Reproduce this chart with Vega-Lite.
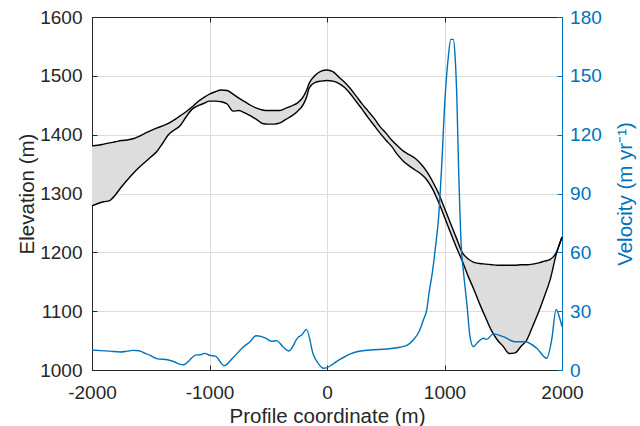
{
  "$schema": "https://vega.github.io/schema/vega-lite/v6.json",
  "width": 470,
  "height": 353,
  "autosize": {"type": "none"},
  "padding": {"left": 92, "top": 17, "right": 78, "bottom": 56},
  "config": {
    "font": "Liberation Sans",
    "view": {"stroke": "#262626", "strokeWidth": 1},
    "axis": {
      "labelFont": "Liberation Sans",
      "titleFont": "Liberation Sans",
      "labelFontSize": 19,
      "titleFontSize": 20.5,
      "titleFontWeight": "normal",
      "labelColor": "#262626",
      "titleColor": "#262626",
      "domainColor": "#262626",
      "tickColor": "#262626",
      "gridColor": "#dcdcdc",
      "gridWidth": 1,
      "tickSize": -5,
      "labelFlush": false,
      "labelOverlap": false
    }
  },
  "datasets": {
    "elev": [
      {"x": -2000, "surface": 1381, "bed": 1279},
      {"x": -1950, "surface": 1382, "bed": 1283},
      {"x": -1900, "surface": 1384, "bed": 1286},
      {"x": -1850, "surface": 1386, "bed": 1288},
      {"x": -1800, "surface": 1388, "bed": 1298},
      {"x": -1750, "surface": 1390, "bed": 1311},
      {"x": -1700, "surface": 1391, "bed": 1323},
      {"x": -1650, "surface": 1393, "bed": 1334},
      {"x": -1600, "surface": 1397, "bed": 1344},
      {"x": -1550, "surface": 1402, "bed": 1353},
      {"x": -1500, "surface": 1407, "bed": 1362},
      {"x": -1450, "surface": 1411, "bed": 1371},
      {"x": -1400, "surface": 1415, "bed": 1385},
      {"x": -1350, "surface": 1419, "bed": 1400},
      {"x": -1300, "surface": 1425, "bed": 1408},
      {"x": -1250, "surface": 1432, "bed": 1415},
      {"x": -1200, "surface": 1439, "bed": 1430},
      {"x": -1150, "surface": 1447, "bed": 1443},
      {"x": -1100, "surface": 1456, "bed": 1449},
      {"x": -1050, "surface": 1463, "bed": 1453},
      {"x": -1000, "surface": 1469, "bed": 1457},
      {"x": -950, "surface": 1473, "bed": 1457},
      {"x": -900, "surface": 1476, "bed": 1456},
      {"x": -850, "surface": 1475, "bed": 1452},
      {"x": -800, "surface": 1469, "bed": 1440},
      {"x": -750, "surface": 1462, "bed": 1441},
      {"x": -700, "surface": 1456, "bed": 1437},
      {"x": -650, "surface": 1450, "bed": 1432},
      {"x": -600, "surface": 1445, "bed": 1426},
      {"x": -550, "surface": 1442, "bed": 1419},
      {"x": -500, "surface": 1441, "bed": 1418},
      {"x": -450, "surface": 1441, "bed": 1418},
      {"x": -400, "surface": 1441, "bed": 1420},
      {"x": -350, "surface": 1445, "bed": 1426},
      {"x": -300, "surface": 1449, "bed": 1432},
      {"x": -250, "surface": 1454, "bed": 1440},
      {"x": -200, "surface": 1465, "bed": 1452},
      {"x": -175, "surface": 1475, "bed": 1463},
      {"x": -150, "surface": 1488, "bed": 1480},
      {"x": -100, "surface": 1501, "bed": 1489},
      {"x": -50, "surface": 1508, "bed": 1491},
      {"x": 0, "surface": 1510, "bed": 1492},
      {"x": 50, "surface": 1507, "bed": 1491},
      {"x": 100, "surface": 1498, "bed": 1487},
      {"x": 150, "surface": 1489, "bed": 1480},
      {"x": 200, "surface": 1478, "bed": 1469},
      {"x": 250, "surface": 1465, "bed": 1456},
      {"x": 300, "surface": 1452, "bed": 1443},
      {"x": 350, "surface": 1440, "bed": 1429},
      {"x": 400, "surface": 1428, "bed": 1416},
      {"x": 450, "surface": 1414, "bed": 1403},
      {"x": 500, "surface": 1403, "bed": 1391},
      {"x": 550, "surface": 1391, "bed": 1380},
      {"x": 600, "surface": 1381, "bed": 1366},
      {"x": 650, "surface": 1372, "bed": 1355},
      {"x": 700, "surface": 1366, "bed": 1347},
      {"x": 750, "surface": 1360, "bed": 1340},
      {"x": 800, "surface": 1350, "bed": 1333},
      {"x": 850, "surface": 1337, "bed": 1323},
      {"x": 900, "surface": 1320, "bed": 1307},
      {"x": 950, "surface": 1300, "bed": 1285},
      {"x": 1000, "surface": 1275, "bed": 1260},
      {"x": 1050, "surface": 1250, "bed": 1234},
      {"x": 1100, "surface": 1225, "bed": 1209},
      {"x": 1150, "surface": 1200, "bed": 1186},
      {"x": 1200, "surface": 1189, "bed": 1160},
      {"x": 1250, "surface": 1183, "bed": 1137},
      {"x": 1300, "surface": 1181, "bed": 1112},
      {"x": 1350, "surface": 1180, "bed": 1089},
      {"x": 1400, "surface": 1179, "bed": 1067},
      {"x": 1450, "surface": 1178, "bed": 1051},
      {"x": 1500, "surface": 1178, "bed": 1040},
      {"x": 1550, "surface": 1178, "bed": 1028},
      {"x": 1600, "surface": 1178, "bed": 1029},
      {"x": 1650, "surface": 1179, "bed": 1040},
      {"x": 1700, "surface": 1179, "bed": 1051},
      {"x": 1750, "surface": 1180, "bed": 1074},
      {"x": 1800, "surface": 1182, "bed": 1098},
      {"x": 1850, "surface": 1185, "bed": 1125},
      {"x": 1900, "surface": 1188, "bed": 1154},
      {"x": 1950, "surface": 1199, "bed": 1196},
      {"x": 2000, "surface": 1226, "bed": 1226}
    ],
    "vel": [
      {"x": -2000, "vel": 10.2},
      {"x": -1930, "vel": 9.9},
      {"x": -1850, "vel": 9.6},
      {"x": -1760, "vel": 9.2},
      {"x": -1700, "vel": 9.6},
      {"x": -1650, "vel": 10.0},
      {"x": -1600, "vel": 9.8},
      {"x": -1560, "vel": 8.8},
      {"x": -1500, "vel": 7.3},
      {"x": -1450, "vel": 5.8},
      {"x": -1350, "vel": 5.1},
      {"x": -1300, "vel": 4.2},
      {"x": -1250, "vel": 2.9},
      {"x": -1220, "vel": 2.7},
      {"x": -1170, "vel": 5.0},
      {"x": -1120, "vel": 7.6},
      {"x": -1080, "vel": 7.8},
      {"x": -1040, "vel": 8.5},
      {"x": -1000, "vel": 7.5},
      {"x": -950, "vel": 7.1},
      {"x": -875, "vel": 2.2},
      {"x": -800, "vel": 6.3},
      {"x": -710, "vel": 11.9},
      {"x": -655, "vel": 14.4},
      {"x": -605, "vel": 17.5},
      {"x": -555, "vel": 17.0},
      {"x": -515, "vel": 16.0},
      {"x": -470, "vel": 14.6},
      {"x": -430, "vel": 15.0},
      {"x": -375, "vel": 11.9},
      {"x": -325, "vel": 9.7},
      {"x": -245, "vel": 16.7},
      {"x": -215, "vel": 17.8},
      {"x": -175, "vel": 20.7},
      {"x": -115, "vel": 7.6},
      {"x": -75, "vel": 3.4},
      {"x": -30, "vel": 0.9},
      {"x": 0, "vel": 1.2},
      {"x": 50, "vel": 3.0},
      {"x": 110, "vel": 5.4},
      {"x": 225, "vel": 8.8},
      {"x": 365, "vel": 10.2},
      {"x": 510, "vel": 10.7},
      {"x": 620, "vel": 11.6},
      {"x": 680, "vel": 12.5},
      {"x": 730, "vel": 15.0},
      {"x": 790, "vel": 20.4},
      {"x": 820, "vel": 25.5},
      {"x": 850, "vel": 31},
      {"x": 870, "vel": 40},
      {"x": 895, "vel": 49},
      {"x": 920, "vel": 61},
      {"x": 950, "vel": 78},
      {"x": 975, "vel": 103},
      {"x": 1005, "vel": 139},
      {"x": 1033, "vel": 160},
      {"x": 1053, "vel": 168.6},
      {"x": 1075, "vel": 168.6},
      {"x": 1090, "vel": 160},
      {"x": 1105, "vel": 139},
      {"x": 1120, "vel": 103},
      {"x": 1146, "vel": 59.5},
      {"x": 1160, "vel": 51},
      {"x": 1170, "vel": 45},
      {"x": 1190, "vel": 34},
      {"x": 1217, "vel": 17},
      {"x": 1245, "vel": 11.9},
      {"x": 1288, "vel": 14.4},
      {"x": 1330, "vel": 16.2},
      {"x": 1360, "vel": 15.6},
      {"x": 1415, "vel": 18.4},
      {"x": 1500, "vel": 17.0},
      {"x": 1600, "vel": 14.4},
      {"x": 1685, "vel": 14.4},
      {"x": 1785, "vel": 11.1},
      {"x": 1870, "vel": 6.0},
      {"x": 1912, "vel": 15.3},
      {"x": 1950, "vel": 30.9},
      {"x": 1977, "vel": 27.2},
      {"x": 2000, "vel": 22.1}
    ]
  },
  "layer": [
    {
      "data": {"name": "elev"},
      "layer": [
        {
          "mark": {"type": "area", "color": "#dddddd", "interpolate": "monotone"},
          "encoding": {
            "x": {
              "field": "x", "type": "quantitative", "title": "Profile coordinate (m)",
              "scale": {"domain": [-2000, 2000], "nice": false, "zero": false},
              "axis": {
                "orient": "bottom",
                "values": [-2000, -1000, 0, 1000, 2000],
                "labelExpr": "datum.value < 0 ? '-' + format(-datum.value, 'd') : format(datum.value, 'd')",
                "labelPadding": 18.7,
                "titlePadding": 4,
                "grid": true
              }
            },
            "y": {
              "field": "surface", "type": "quantitative", "title": "Elevation (m)",
              "scale": {"domain": [1000, 1600], "nice": false, "zero": false},
              "axis": {
                "orient": "left",
                "values": [1000, 1100, 1200, 1300, 1400, 1500, 1600],
                "format": "d",
                "labelPadding": 15,
                "titlePadding": 2,
                "grid": true
              }
            },
            "y2": {"field": "bed"}
          }
        },
        {
          "mark": {"type": "line", "color": "#000000", "strokeWidth": 1.4, "interpolate": "monotone"},
          "encoding": {
            "x": {"field": "x", "type": "quantitative", "title": "Profile coordinate (m)"},
            "y": {"field": "surface", "type": "quantitative", "title": "Elevation (m)"}
          }
        },
        {
          "mark": {"type": "line", "color": "#000000", "strokeWidth": 1.4, "interpolate": "monotone"},
          "encoding": {
            "x": {"field": "x", "type": "quantitative", "title": "Profile coordinate (m)"},
            "y": {"field": "bed", "type": "quantitative", "title": "Elevation (m)"}
          }
        }
      ]
    },
    {
      "data": {"name": "vel"},
      "mark": {"type": "line", "color": "#0072BD", "strokeWidth": 1.4, "interpolate": "monotone"},
      "encoding": {
        "x": {
          "field": "x", "type": "quantitative", "title": null,
          "axis": {
            "orient": "top",
            "values": [-2000, -1000, 0, 1000, 2000],
            "labels": false,
            "grid": false
          }
        },
        "y": {
          "field": "vel", "type": "quantitative", "title": "Velocity (m yr⁻¹)",
          "scale": {"domain": [0, 180], "nice": false, "zero": false},
          "axis": {
            "orient": "right",
            "values": [0, 30, 60, 90, 120, 150, 180],
            "format": "d",
            "grid": false,
            "labelColor": "#0072BD",
            "titleColor": "#0072BD",
            "domainColor": "#0072BD",
            "tickColor": "#0072BD",
            "labelPadding": 12.6,
            "titleAngle": 270,
            "titlePadding": 34
          }
        }
      }
    }
  ],
  "resolve": {"scale": {"y": "independent"}, "axis": {"x": "independent"}}
}
